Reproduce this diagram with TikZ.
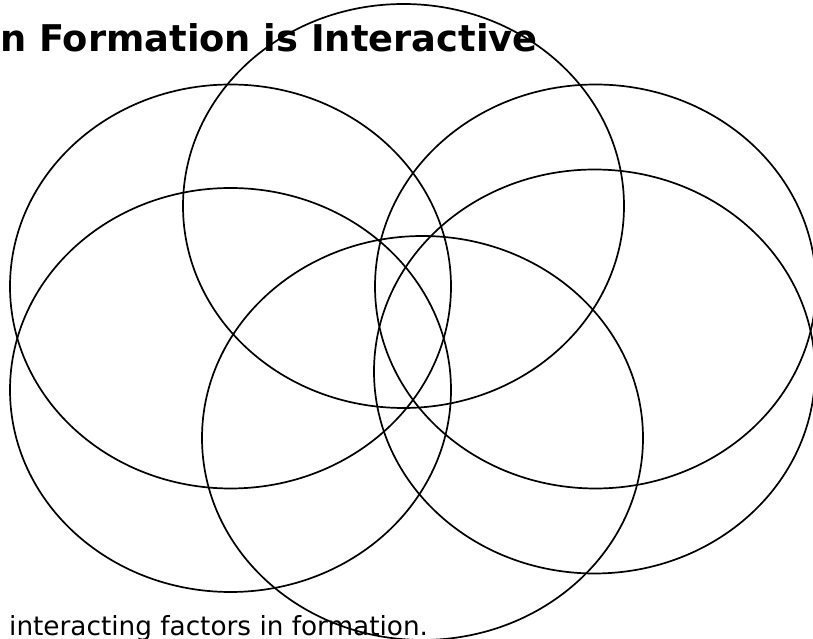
\documentclass[tikz,border=0pt]{standalone}
\usepackage{fontspec}
\setmainfont{DejaVu Sans}
\usetikzlibrary{shapes.geometric}
\begin{document}
\begin{tikzpicture}[x=1pt,y=1pt,
  ring/.style={draw=black,line width=1.7pt,ellipse,minimum width=441pt,minimum height=404pt,inner sep=0pt},
  titletext/.style={anchor=base west,inner sep=0pt,font=\fontsize{36.8}{42}\selectfont\bfseries},
  foottext/.style={anchor=base west,inner sep=0pt,font=\fontsize{26.3}{30}\selectfont}]
\useasboundingbox (0,0) rectangle (813,639);
\node[titletext] (title) at (0,587) {n Formation is Interactive};
\node[foottext] (foot) at (9,3) {interacting factors in formation.};
\node[ring] (tc) at (403.5,433) {};
\node[ring] (ul) at (230.5,352.5) {};
\node[ring] (ur) at (595.5,352.5) {};
\node[ring] (ll) at (230.5,249) {};
\node[ring] (lr) at (594.5,267.5) {};
\node[ring] (bc) at (422.5,201) {};
\end{tikzpicture}
\end{document}
